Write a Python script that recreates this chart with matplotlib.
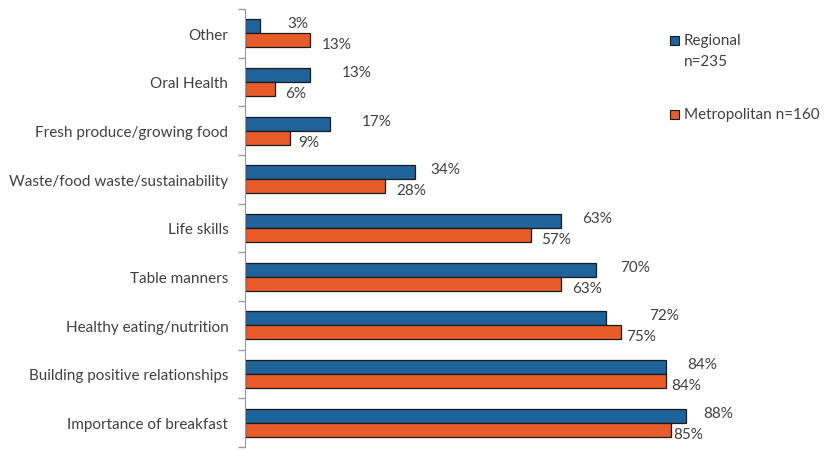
import matplotlib.pyplot as plt
from matplotlib.patches import Rectangle
import numpy as np

plt.rcParams['font.family'] = ['Lato', 'DejaVu Sans']

# Data (top to bottom as in the chart)
categories = ["Other", "Oral Health", "Fresh produce/growing food",
              "Waste/food waste/sustainability", "Life skills", "Table manners",
              "Healthy eating/nutrition", "Building positive relationships",
              "Importance of breakfast"]
regional = [3, 13, 17, 34, 63, 70, 72, 84, 88]
metro = [13, 6, 9, 28, 57, 63, 75, 84, 85]

# hand-placed label gaps (pixels) in the original
reg_gap = [27, 32, 32, 15, 21, 24, 43, 21, 17]
met_gap = [12, 10, 8, 11, 11, 11, 5, 5, 2]

blue = "#1F639B"
orange = "#E85C2A"
text_col = "#404040"

fig = plt.figure(figsize=(8.28, 4.52), dpi=100)
ax = fig.add_axes([245 / 828, 4 / 452, (746 - 245) / 828, (448 - 10) / 452])

n = len(categories)
y = np.arange(n)[::-1]
h = 0.29

ax.barh(y + h / 2, regional, height=h, color=blue, edgecolor="#1a1a1a", linewidth=0.9)
ax.barh(y - h / 2, metro, height=h, color=orange, edgecolor="#1a1a1a", linewidth=0.9)

for i in range(n):
    ax.annotate(f"{regional[i]}%", (regional[i], y[i] + h / 2), xytext=(reg_gap[i], 3),
                textcoords="offset pixels", va="center", ha="left",
                fontsize=11, color=text_col)
    ax.annotate(f"{metro[i]}%", (metro[i], y[i] - h / 2), xytext=(met_gap[i], -4),
                textcoords="offset pixels", va="center", ha="left",
                fontsize=11, color=text_col)

ax.set_xlim(0, 100)
ax.set_ylim(-0.5, n - 0.5)
ax.set_yticks(y)
ax.set_yticklabels(categories, fontsize=11, color=text_col)
ax.set_yticks(np.arange(-0.5, n, 1.0), minor=True)
ax.tick_params(axis="y", which="major", length=0, pad=12)
ax.tick_params(axis="y", which="minor", length=5, color="#999999", width=1)
ax.xaxis.set_visible(False)
for s in ["top", "right", "bottom"]:
    ax.spines[s].set_visible(False)
ax.spines["left"].set_color("#999999")

# legend drawn by hand to match the layout
fig.patches.append(Rectangle((670 / 828, 1 - 46 / 452), 9 / 828, 9 / 452,
                             transform=fig.transFigure, facecolor=blue,
                             edgecolor="#1a1a1a", linewidth=0.8))
fig.text(684 / 828, 1 - 41 / 452, "Regional", fontsize=11, color=text_col, va="center")
fig.text(684 / 828, 1 - 62 / 452, "n=235", fontsize=11, color=text_col, va="center")
fig.patches.append(Rectangle((670 / 828, 1 - 120 / 452), 9 / 828, 9 / 452,
                             transform=fig.transFigure, facecolor=orange,
                             edgecolor="#1a1a1a", linewidth=0.8))
fig.text(684 / 828, 1 - 115 / 452, "Metropolitan n=160", fontsize=11, color=text_col, va="center")

fig.savefig("out.png", dpi=100)
